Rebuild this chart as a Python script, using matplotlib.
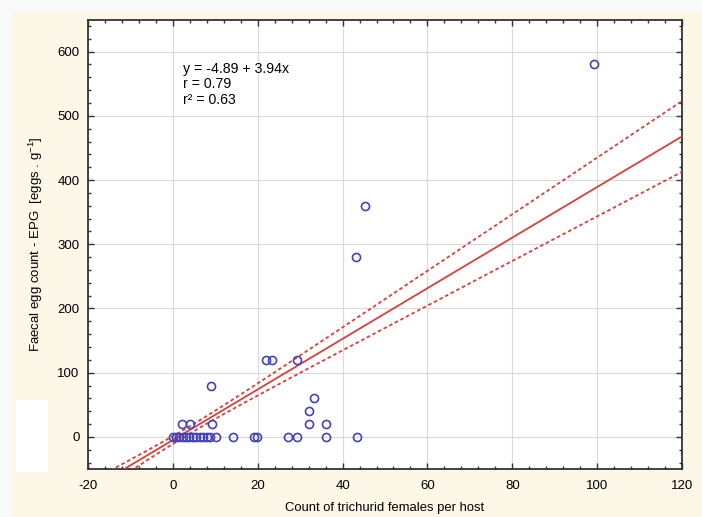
import numpy as np
import matplotlib.pyplot as plt
from matplotlib.patches import Rectangle
from matplotlib.ticker import MultipleLocator

plt.rcParams['font.family'] = ['Liberation Sans', 'DejaVu Sans']
plt.rcParams['axes.unicode_minus'] = False

# hosts: count of trichurid females (x), EPG (y), number of hosts at that point
x_pts = [0, 0.8, 1.5, 2.3, 3.1, 3.9, 4.8, 5.5, 6.3, 7.2, 8.0, 8.7, 10.2, 14.2,
         19.1, 19.9, 27.1, 29.2, 36.2, 43.3,
         2.1, 4.1, 9.2, 32.2, 36.2,
         32.2, 33.2, 8.9, 22.0, 23.3, 29.2, 43.2, 45.2, 99.2]
y_pts = [0, 0, 0, 0, 0, 0, 0, 0, 0, 0, 0, 0, 0, 0,
         0, 0, 0, 0, 0, 0,
         20, 20, 20, 20, 20,
         40, 60, 80, 120, 120, 120, 280, 360, 580]
n_pts = [128] + [1] * 33   # many hosts without worms / eggs overlap at the origin

intercept = -4.89
slope = 3.94
t_95 = 1.975
stats_text = "y = -4.89 + 3.94x\nr = 0.79\nr\u00b2 = 0.63"

x_all = np.repeat(x_pts, n_pts)
y_all = np.repeat(y_pts, n_pts)
n = len(x_all)
resid = y_all - (intercept + slope * x_all)
s = np.sqrt(np.sum(resid ** 2) / (n - 2))
sxx = np.sum((x_all - x_all.mean()) ** 2)

xs = np.linspace(-20, 120, 300)
fit = intercept + slope * xs
half = t_95 * s * np.sqrt(1.0 / n + (xs - x_all.mean()) ** 2 / sxx)

fig = plt.figure(figsize=(7.02, 5.17), dpi=100, facecolor='#f9fbfa')
fig.patches.append(Rectangle((12 / 702, 0), 1, 1 - 11 / 517, transform=fig.transFigure,
                             facecolor='#fcf7e6', edgecolor='none', zorder=-10))
fig.patches.append(Rectangle((16 / 702, (517 - 472) / 517), 32 / 702, 72 / 517,
                             transform=fig.transFigure, facecolor='white',
                             edgecolor='none', zorder=-5))

ax = fig.add_axes([88 / 702, (517 - 469) / 517, (682 - 88) / 702, (469 - 19.5) / 517])
ax.set_zorder(1)
ax.set_facecolor('white')

ax.plot(xs, fit, color='#d9403c', lw=1.3, zorder=3)
ax.plot(xs, fit + half, color='#d9403c', lw=1.3, ls=(0, (2, 1.5)), zorder=3)
ax.plot(xs, fit - half, color='#d9403c', lw=1.3, ls=(0, (2, 1.5)), zorder=3)
ax.plot(x_pts, y_pts, 'o', mfc='none', mec='#4343bd', ms=5.8, mew=1.2, zorder=4)

ax.text(2.4, 584, stats_text, fontsize=10.2, va='top', ha='left', linespacing=1.12)

ax.set_xlim(-20, 120)
ax.set_ylim(-50, 650)
ax.xaxis.set_major_locator(MultipleLocator(20))
ax.xaxis.set_minor_locator(MultipleLocator(4))
ax.yaxis.set_major_locator(MultipleLocator(100))
ax.yaxis.set_minor_locator(MultipleLocator(20))
ax.grid(True, which='major', color='#dadada', lw=0.8, zorder=0)
ax.set_axisbelow(True)
ax.tick_params(which='both', direction='in', top=True, right=True, labelsize=9.5,
               color='#333333')
ax.tick_params(axis='x', pad=8)
ax.tick_params(axis='y', pad=6)
ax.tick_params(which='major', length=4, width=1)
ax.tick_params(which='minor', length=2.5, width=1)
for sp in ax.spines.values():
    sp.set_color('#333333')
    sp.set_linewidth(1.3)

ax.set_xlabel("Count of trichurid females per host", fontsize=9.4, labelpad=7)
ax.set_ylabel("Faecal egg count - EPG  [eggs . g$^{\\mathregular{-1}}$]", fontsize=9.5, labelpad=9)

fig.savefig('out.png', dpi=100, facecolor=fig.get_facecolor())
